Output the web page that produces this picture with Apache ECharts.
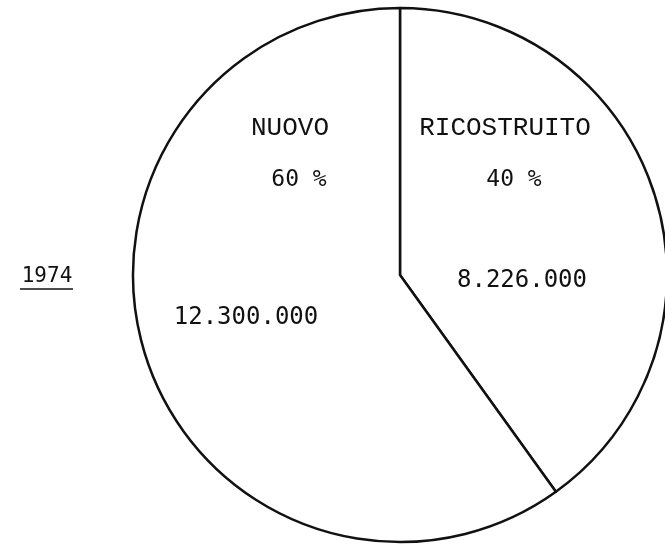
<!DOCTYPE html>
<html>
<head>
<meta charset="UTF-8">
<title>1974</title>
<style type="text/css">
	* { margin: 0; padding: 0; }
	html, body { background: #fff; }
	#chart { width: 665px; height: 545px; }
</style>
</head>
<body>
<div id="chart"></div>
<script src="https://cdn.jsdelivr.net/npm/echarts@6/dist/echarts.min.js"></script>
<script type="text/javascript">
	// dati
	var anno = '1974';
	var nomi = ['RICOSTRUITO', 'NUOVO'];
	var valori = [8226000, 12300000];
	var percentuali = ['40 %', '60 %'];
	var etichette = ['8.226.000', '12.300.000'];

	var fontNumeri = '"DejaVu Sans Mono", monospace';
	var fontNomi = '"Liberation Mono", "Courier New", monospace';

	var chart = echarts.init(document.getElementById('chart'));

	var dati = [];
	for (var i = 0; i < nomi.length; i++) {
		dati.push({ name: nomi[i], value: valori[i] });
	}

	// posizione dei testi dentro le fette
	var posNome = [[505, 128], [290, 128]];
	var posPerc = [[514, 180], [299, 180]];
	var posVal = [[522, 281], [246, 318]];

	var testi = [];
	for (var j = 0; j < nomi.length; j++) {
		testi.push({
			type: 'text', x: posNome[j][0], y: posNome[j][1], z: 100,
			style: { text: nomi[j], font: '26px ' + fontNomi, fill: '#111', align: 'center', verticalAlign: 'middle' }
		});
		testi.push({
			type: 'text', x: posPerc[j][0], y: posPerc[j][1], z: 100,
			style: { text: percentuali[j], font: '23px ' + fontNumeri, fill: '#111', align: 'center', verticalAlign: 'middle' }
		});
		testi.push({
			type: 'text', x: posVal[j][0], y: posVal[j][1], z: 100,
			style: { text: etichette[j], font: '24px ' + fontNumeri, fill: '#111', align: 'center', verticalAlign: 'middle' }
		});
	}
	// anno sottolineato
	testi.push({
		type: 'text', x: 47, y: 277, z: 100,
		style: { text: anno, font: '21px ' + fontNumeri, fill: '#111', align: 'center', verticalAlign: 'middle' }
	});
	testi.push({
		type: 'line', z: 100, shape: { x1: 20, y1: 289, x2: 73, y2: 289 },
		style: { stroke: '#111', lineWidth: 1.5 }
	});

	chart.setOption({
		backgroundColor: '#fff',
		animation: false,
		series: [{
			type: 'pie',
			center: [400, 275],
			radius: 267,
			startAngle: 90,
			clockwise: true,
			silent: true,
			z: 1,
			label: { show: false },
			labelLine: { show: false },
			itemStyle: { color: '#fff', borderColor: '#111', borderWidth: 2.5 },
			emphasis: { disabled: true },
			data: dati
		}],
		graphic: testi
	});
</script>
</body>
</html>
